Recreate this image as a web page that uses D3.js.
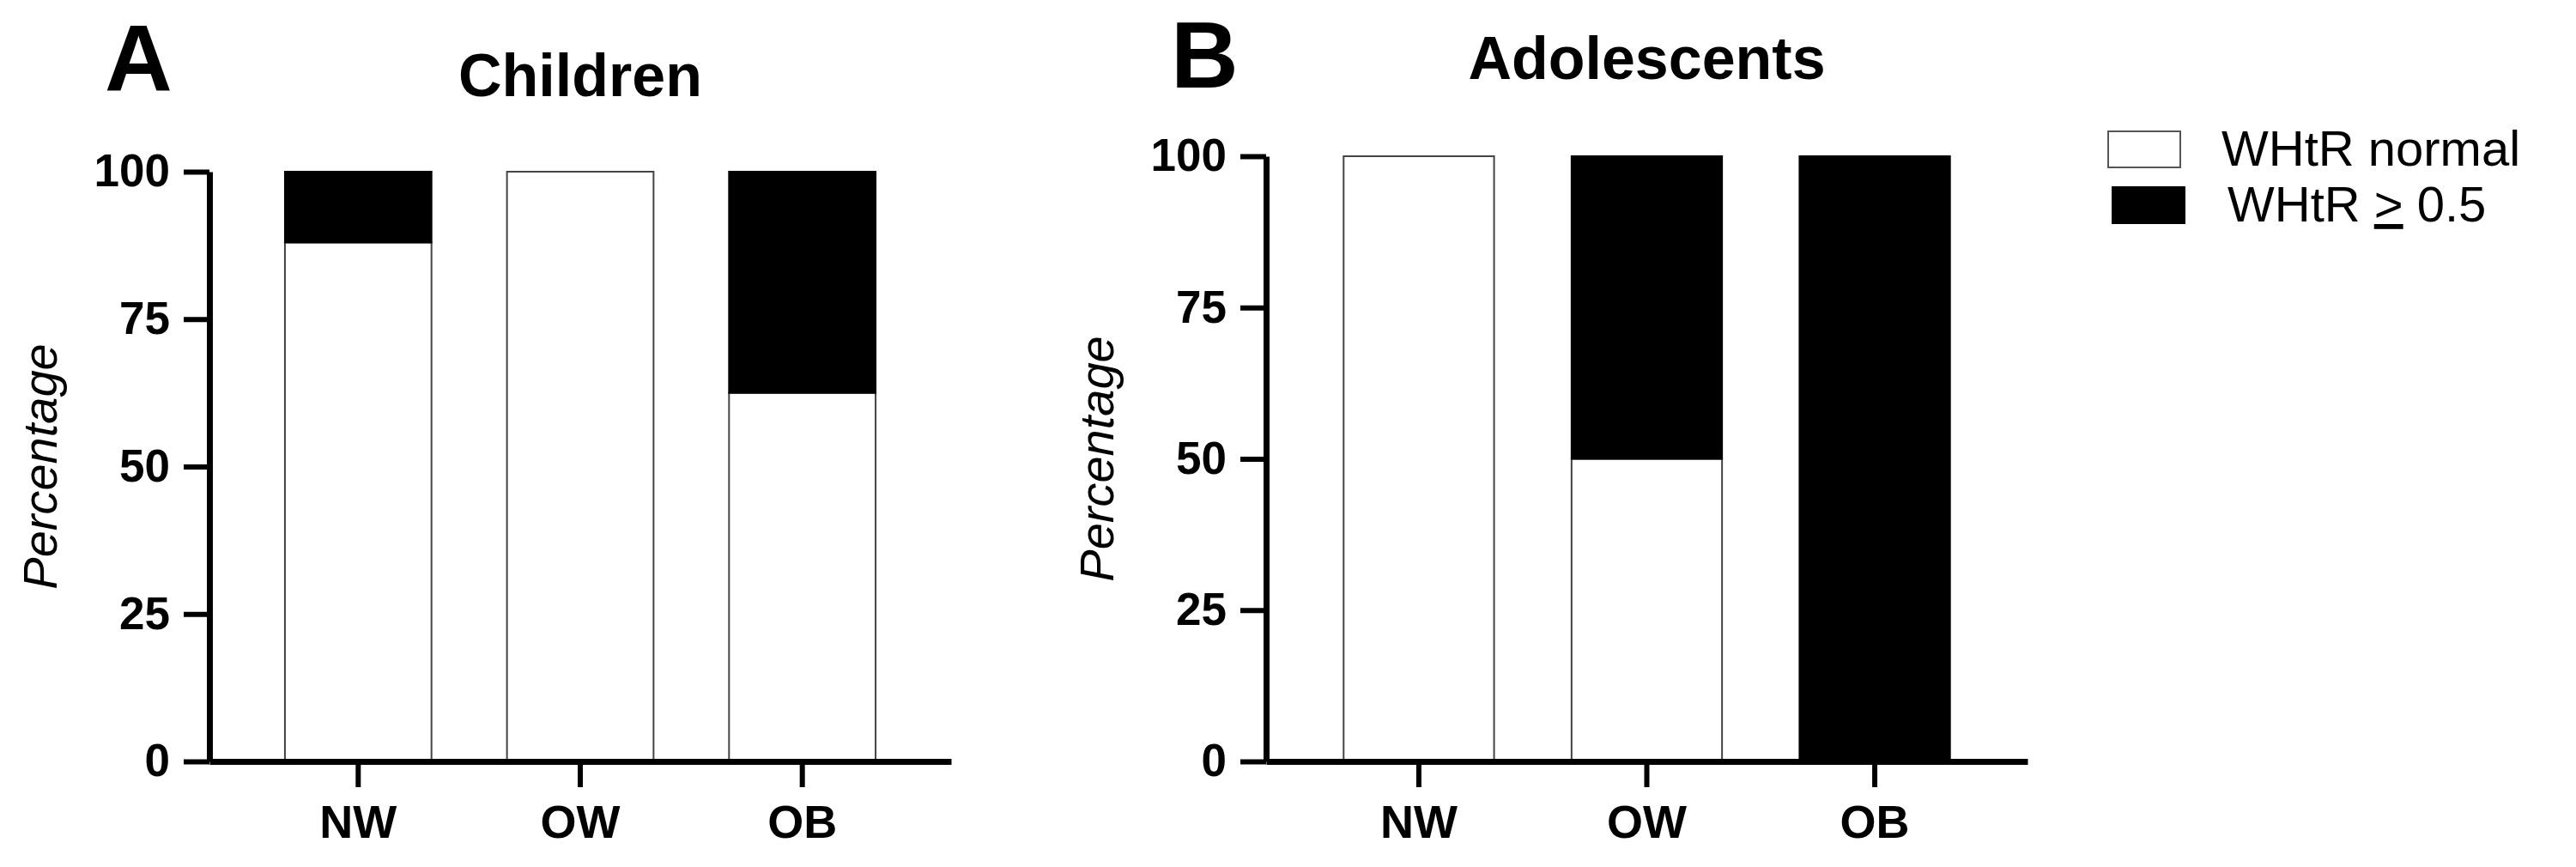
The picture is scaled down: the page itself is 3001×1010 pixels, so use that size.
<!DOCTYPE html>
<html>
<head>
<meta charset="utf-8">
<script src="https://cdn.jsdelivr.net/npm/d3@7"></script>
<style>
	body { margin: 0; background: #fff; }
	text { font-family: "Liberation Sans", Arial, Helvetica, sans-serif; fill: #000; }
</style>
</head>
<body>
<div id="chart"></div>
<script>
const categories = ['NW', 'OW', 'OB'];
const yTicks = [0, 25, 50, 75, 100];

// percentages per group (bottom = normal, top = WHtR >= 0.5)
const childrenNormal = [88, 100, 62.5];
const childrenHigh = [12, 0, 37.5];
const adolescentsNormal = [100, 50, 0];
const adolescentsHigh = [0, 50, 100];

const seriesNames = ['WHtR normal', 'WHtR ≥ 0.5'];
const seriesFill = ['#fff', '#000'];

const svg = d3.select('#chart').append('svg')
	.attr('width', 3001)
	.attr('height', 1010);

const drawPanel = (opts) => {
	const { letter, title, normal, high, x0, x1, yTop, letterX, letterY, titleY } = opts;
	const yBottom = 887;

	const x = d3.scaleBand()
		.domain(categories)
		.range([x0, x1])
		.paddingInner(0.34)
		.paddingOuter(0.34);

	const y = d3.scaleLinear()
		.domain([0, 100])
		.range([yBottom, yTop]);

	const rows = categories.map((c, i) => ({ cat: c, normal: normal[i], high: high[i] }));
	const stacked = d3.stack().keys(['normal', 'high'])(rows);

	const g = svg.append('g');

	stacked.forEach((layer, li) => {
		g.selectAll('rect.s' + li + '-' + letter)
			.data(layer.filter(d => d[1] - d[0] > 0))
			.enter()
			.append('rect')
			.attr('class', 's' + li + '-' + letter)
			.attr('x', d => x(d.data.cat))
			.attr('width', x.bandwidth())
			.attr('y', d => y(d[1]))
			.attr('height', d => y(d[0]) - y(d[1]))
			.attr('fill', seriesFill[li])
			.attr('stroke', li === 0 ? '#444' : '#000')
			.attr('stroke-width', 2);
	});

	// y axis
	const yAxis = g.append('g')
		.attr('transform', `translate(${x0},0)`)
		.call(d3.axisLeft(y).tickValues(yTicks).tickSize(30).tickSizeOuter(0).tickPadding(16));
	yAxis.select('.domain').attr('stroke-width', 7).attr('stroke', '#000');
	yAxis.selectAll('.tick line').attr('stroke-width', 6).attr('stroke', '#000');
	yAxis.selectAll('.tick text')
		.style('font-size', '53px')
		.style('font-weight', 'bold');

	// x axis
	const xAxis = g.append('g')
		.attr('transform', `translate(0,${yBottom})`)
		.call(d3.axisBottom(x).tickSize(30).tickSizeOuter(0).tickPadding(21));
	xAxis.select('.domain').attr('stroke-width', 7).attr('stroke', '#000');
	xAxis.selectAll('.tick line').attr('stroke-width', 6).attr('stroke', '#000');
	xAxis.selectAll('.tick text')
		.style('font-size', '54px')
		.style('font-weight', 'bold');

	// axis title
	g.append('text')
		.attr('transform', `translate(${x0 - 178},${(yBottom + yTop) / 2}) rotate(-90)`)
		.attr('text-anchor', 'middle')
		.style('font-size', '56px')
		.style('font-style', 'italic')
		.text('Percentage');

	// panel title
	g.append('text')
		.attr('x', (x0 + x1) / 2)
		.attr('y', titleY)
		.attr('text-anchor', 'middle')
		.style('font-size', '70px')
		.style('font-weight', 'bold')
		.text(title);

	// panel letter
	g.append('text')
		.attr('x', letterX)
		.attr('y', letterY)
		.style('font-size', '109px')
		.style('font-weight', 'bold')
		.text(letter);
};

drawPanel({
	letter: 'A', title: 'Children', normal: childrenNormal, high: childrenHigh,
	x0: 244, x1: 1108, yTop: 200, letterX: 122, letterY: 105, titleY: 112
});

drawPanel({
	letter: 'B', title: 'Adolescents', normal: adolescentsNormal, high: adolescentsHigh,
	x0: 1475, x1: 2362, yTop: 182, letterX: 1364, letterY: 102, titleY: 92
});

// legend
const legend = svg.append('g');
const legendRows = [
	{ boxX: 2456, boxY: 153, textX: 2588, textY: 193 },
	{ boxX: 2461, boxY: 218, textX: 2595, textY: 258 }
];

legendRows.forEach((r, i) => {
	legend.append('rect')
		.attr('x', r.boxX)
		.attr('y', r.boxY)
		.attr('width', 84)
		.attr('height', 42)
		.attr('fill', seriesFill[i])
		.attr('stroke', i === 0 ? '#555' : '#000')
		.attr('stroke-width', 2);

	const t = legend.append('text')
		.attr('x', r.textX)
		.attr('y', r.textY)
		.style('font-size', '58px');

	if (i === 0) {
		t.text(seriesNames[0]);
	} else {
		// "≥" is shown as an underlined ">" in the original
		t.append('tspan').text('WHtR ');
		t.append('tspan').style('text-decoration', 'underline').text('>');
		t.append('tspan').text(' 0.5');
	}
});
</script>
</body>
</html>
